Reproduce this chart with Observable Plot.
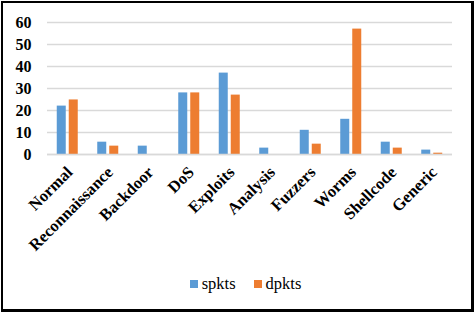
<!DOCTYPE html>
<html><head><meta charset="utf-8">
<script src="https://cdn.jsdelivr.net/npm/d3@7"></script>
<script src="https://cdn.jsdelivr.net/npm/@observablehq/plot@0.6"></script>
<style>
html,body{margin:0;padding:0;background:#fff;}
#wrap{position:relative;width:475px;height:314px;overflow:hidden;}
#frame{position:absolute;left:1px;top:1px;width:468px;height:306px;border-left:2px solid #000;border-top:2px solid #000;border-right:3px solid #000;border-bottom:3px solid #000;}
#chart{position:absolute;left:0;top:0;width:475px;}
#chart svg{display:block;}
#chart svg text{font-family:'Liberation Serif',serif !important;font-weight:bold !important;}
#legend{position:absolute;left:8px;top:274px;width:475px;display:flex;justify-content:center;gap:18px;font-family:'Liberation Serif',serif !important;font-size:16.5px;color:#000;}
#legend span{display:flex;align-items:center;font-family:'Liberation Serif',serif !important;}
#legend i{display:inline-block;width:8px;height:8px;margin-right:4px;}
</style></head>
<body><div id="wrap"><div id="frame"></div><div id="chart"></div><div id="legend"></div></div>
<script>
const categories = ["Normal","Reconnaissance","Backdoor","DoS","Exploits","Analysis","Fuzzers","Worms","Shellcode","Generic"];
const spkts = [22, 5.6, 3.8, 28, 37, 2.9, 11, 16, 5.6, 2];
const dpkts = [24.8, 3.8, 0, 28, 27, 0, 4.7, 57, 2.9, 0.6];
const seriesNames = ["spkts","dpkts"];
const colors = ["#5B9BD5","#ED7D31"];
const yTicks = [0,10,20,30,40,50,60];

const spData = categories.map((c,i)=>({category:c, series:seriesNames[0], value:spkts[i]}));
const dpData = categories.map((c,i)=>({category:c, series:seriesNames[1], value:dpkts[i]}));

const serif = "'Liberation Serif', serif";
const chart = Plot.plot({
  width: 475,
  height: 262,
  marginLeft: 47,
  marginRight: 23,
  marginTop: 22,
  marginBottom: 108,
  style: {fontFamily: serif, fontWeight: "bold", fontSize: "16px", color: "#000", background: "transparent", overflow: "visible"},
  x: {domain: categories, padding: 0, round: false, label: null},
  y: {domain: [0, 60], label: null},
  color: {domain: seriesNames, range: colors},
  marks: [
    Plot.gridY(yTicks, {stroke: "#d9d9d9", strokeOpacity: 1, strokeWidth: 1.5}),
    Plot.axisY(yTicks, {tickSize: 0, tickPadding: 16, label: null, fontSize: 16, fontWeight: "bold", fontFamily: serif}),
    Plot.axisX({tickRotate: -45, tickSize: 0, tickPadding: 0, dx: 2, dy: 15, label: null, fontSize: 16.5, fontWeight: "bold", fontFamily: serif}),
    Plot.barY(spData, {x: "category", y: "value", fill: "series", insetLeft: 9.75, insetRight: 21.75}),
    Plot.barY(dpData, {x: "category", y: "value", fill: "series", insetLeft: 21.75, insetRight: 9.75}),
    Plot.ruleY([0], {stroke: "#d9d9d9", strokeWidth: 1.5})
  ]
});
document.getElementById("chart").appendChild(chart);

const lg = document.getElementById("legend");
seriesNames.forEach((s,i)=>{
  const sp = document.createElement("span");
  sp.innerHTML = `<i style="background:${colors[i]}"></i>${s}`;
  lg.appendChild(sp);
});
</script></body></html>
